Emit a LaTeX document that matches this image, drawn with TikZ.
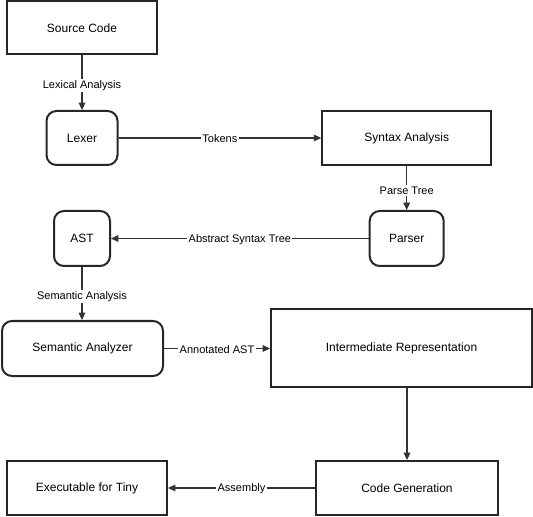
\documentclass[tikz,border=0pt]{standalone}
\usepackage{fontspec}
\setmainfont{Liberation Sans}
\usetikzlibrary{arrows.meta}
\begin{document}
\begin{tikzpicture}[x=0.75pt,y=-0.75pt,
  box/.style={draw=black!85,line width=1.5pt,fill=white,inner sep=0pt,font=\fontsize{9pt}{11pt}\selectfont},
  rbox/.style={box,rounded corners=7.5pt},
  conn/.style={draw=black!80,line width=0.8pt,-{Triangle[length=5.5pt,width=5pt]}},
  lbl/.style={fill=white,inner sep=1pt,font=\fontsize{8.25pt}{10pt}\selectfont,midway,yshift=-0.8pt},
  vlbl/.style={lbl,pos=0.53}]
\useasboundingbox (0,0) rectangle (533,517);
\node[box,minimum width=112.5pt,minimum height=39.75pt] (src) at (82,28) {Source Code};
\node[rbox,minimum width=53.25pt,minimum height=40.5pt] (lex) at (82,138) {Lexer};
\node[box,minimum width=126.75pt,minimum height=40.5pt] (syn) at (406.7,138) {Syntax Analysis};
\node[rbox,minimum width=55.5pt,minimum height=41.25pt] (par) at (406.7,238.5) {Parser};
\node[rbox,minimum width=42pt,minimum height=41.25pt] (ast) at (82,238.5) {AST};
\node[rbox,minimum width=120.75pt,minimum height=41.25pt] (sem) at (82.5,348.5) {Semantic Analyzer};
\node[box,minimum width=195.75pt,minimum height=58.5pt] (ir) at (401.5,348) {Intermediate Representation};
\node[box,minimum width=136.5pt,minimum height=40.5pt] (cg) at (407,488) {Code Generation};
\node[box,minimum width=120pt,minimum height=40.5pt] (ex) at (87,488) {Executable for Tiny};

\draw[conn] (src.south) -- (lex.north) node[vlbl] {Lexical Analysis};
\draw[conn] (lex.east) -- (syn.west) node[lbl] {Tokens};
\draw[conn] (syn.south) -- (par.north) node[vlbl] {Parse Tree};
\draw[conn] (par.west) -- (ast.east) node[lbl] {Abstract Syntax Tree};
\draw[conn] (ast.south) -- (ast.south |- sem.north) node[vlbl] {Semantic Analysis};
\draw[conn] (sem.east) -- (sem.east -| ir.west) node[lbl] {Annotated AST};
\draw[conn] (ir.south -| cg.north) -- (cg.north);
\draw[conn] (cg.west) -- (ex.east) node[lbl] {Assembly};
\end{tikzpicture}
\end{document}
